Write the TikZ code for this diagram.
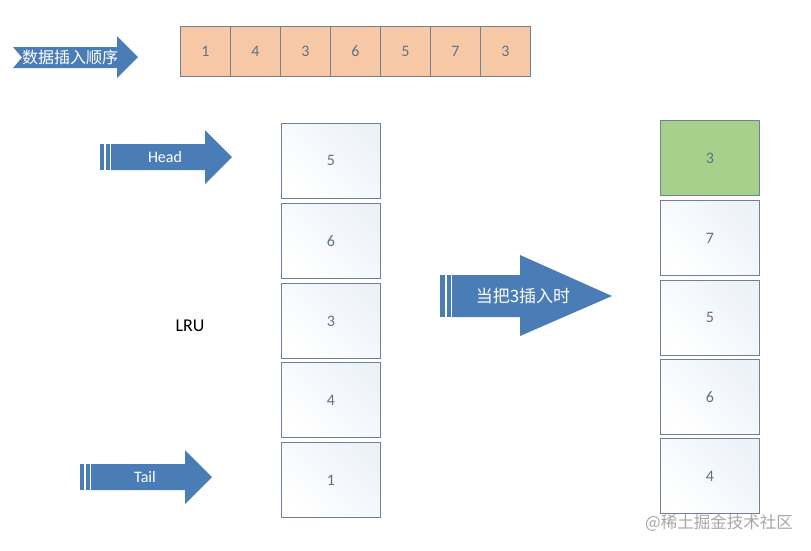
\documentclass[tikz,border=0pt]{standalone}
\usepackage{fontspec}
\setmainfont{Carlito}
\newfontfamily\cjk{Noto Sans CJK SC}
\usetikzlibrary{positioning}
\definecolor{peach}{HTML}{F7C8A6}
\definecolor{edge}{HTML}{6E8196}
\definecolor{arrowblue}{HTML}{4A7DB5}
\definecolor{numtxt}{HTML}{5F7386}
\definecolor{green3}{HTML}{A7D08C}
\definecolor{paleblue}{HTML}{EDF2F9}
\tikzset{
  cell/.style={draw=edge, line width=0.8pt, fill=peach, minimum width=50pt, minimum height=50pt, inner sep=0pt, font=\fontsize{16}{16}\selectfont, text=numtxt, anchor=north west},
  lbox/.style={draw=edge, line width=0.8pt, left color=paleblue, right color=white, shading angle=315, minimum width=99pt, minimum height=75pt, inner sep=0pt, font=\fontsize{16}{16}\selectfont, text=numtxt, anchor=north west},
  gbox/.style={lbox, fill=green3, left color=green3, right color=green3},
  arr/.style={fill=arrowblue},
  arrtxt/.style={text=white, inner sep=0pt},
}
\begin{document}
\begin{tikzpicture}[x=1pt,y=-1pt]
\useasboundingbox (0,0) rectangle (811,550);
% top sequence
\foreach \v [count=\i from 0] in {1,4,3,6,5,7,3}{
  \node[cell] (c\i) at ({180+50*\i},26) {\v};
}
% chevron arrow
\fill[arr] (13,47) -- (117,47) -- (117,36) -- (138,57) -- (117,78) -- (117,68) -- (13,68) -- (22,57.5) -- cycle;
\node[arrtxt, font=\cjk\fontsize{16}{16}\selectfont] (order) at (70,57.5) {数据插入顺序};
% left column
\node[lbox] (l5) at (281,123) {5};
\node[lbox] (l6) at (281,203) {6};
\node[lbox] (l3) at (281,283) {3};
\node[lbox] (l4) at (281,362) {4};
\node[lbox] (l1) at (281,442) {1};
\node[font=\fontsize{18}{18}\selectfont] (lru) at (190,326) {LRU};
% Head arrow
\fill[arr] (100,144) rectangle (104,170);
\fill[arr] (105.5,144) rectangle (109.5,170);
\fill[arr] (111,144) -- (205,144) -- (205,130) -- (232,157) -- (205,184) -- (205,170) -- (111,170) -- cycle;
\node[arrtxt, font=\fontsize{16}{16}\selectfont] (head) at (165,157) {Head};
% Tail arrow
\fill[arr] (80,464) rectangle (84,490);
\fill[arr] (85.5,464) rectangle (89.5,490);
\fill[arr] (91,464) -- (185,464) -- (185,450) -- (212,477) -- (185,504) -- (185,490) -- (91,490) -- cycle;
\node[arrtxt, font=\fontsize{16}{16}\selectfont] (tail) at (145,477) {Tail};
% middle arrow
\fill[arr] (440,275) rectangle (445,317);
\fill[arr] (446.5,275) rectangle (450.5,317);
\fill[arr] (452,275) -- (520,275) -- (520,255) -- (612,296) -- (520,336) -- (520,317) -- (452,317) -- cycle;
\node[arrtxt, font=\cjk\fontsize{17}{17}\selectfont] (ins) at (523,296) {当把3插入时};
% right column
\node[gbox] (r3) at (660,120) {3};
\node[lbox] (r7) at (660,200) {7};
\node[lbox] (r5) at (660,280) {5};
\node[lbox] (r6) at (660,359) {6};
\node[lbox] (r4) at (660,438) {4};
% watermark
\node[text=black!35, font=\cjk\fontsize{16.5}{16.5}\selectfont, inner sep=0pt] (wm) at (719,523) {@稀土掘金技术社区};
\end{tikzpicture}
\end{document}
